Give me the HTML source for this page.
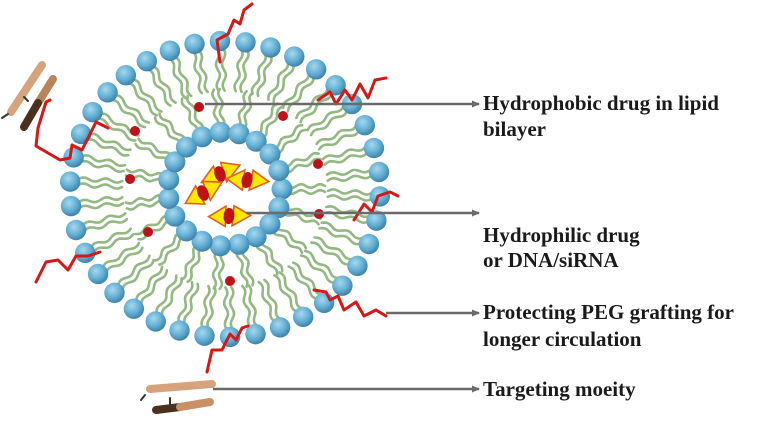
<!DOCTYPE html>
<html><head><meta charset="utf-8"><style>
html,body{margin:0;padding:0;background:#fff;}
#w{position:relative;width:780px;height:440px;overflow:hidden;background:#fff;}
.t{position:absolute;left:483px;font-family:"Liberation Serif",serif;font-weight:bold;font-size:21px;color:#1a1a1a;line-height:26px;white-space:nowrap;}
</style></head><body><div id="w">
<svg id="s" width="780" height="440" style="position:absolute;left:0;top:0">
<defs>
<radialGradient id="bg" cx="40%" cy="35%" r="65%"><stop offset="0" stop-color="#a6d8ee"/><stop offset="0.6" stop-color="#62aed3"/><stop offset="1" stop-color="#3f82a8"/></radialGradient>
<marker id="ah" markerWidth="8" markerHeight="8" refX="7" refY="4" orient="auto" markerUnits="userSpaceOnUse"><path d="M0,0.5 L8,4 L0,7.5z" fill="#6a6a6a"/></marker>
</defs>
<g id="tails" fill="none" stroke="#93b882" stroke-width="2.6" stroke-linecap="round"></g>
<g id="heads"></g>
<g id="dots" fill="#c0101a"></g>
<g id="tri"></g>
<g fill="none" stroke="#d41818" stroke-width="3" stroke-linejoin="round" stroke-linecap="round">
<path d="M220,62 L217,40 L228,34 L234,20 L240,24 L244,10 L252,4"/>
<path d="M318,100 L330,92 L336,104 L345,90 L352,100 L360,84 L368,98 L375,80 L386,78"/>
<path d="M108,128 L96,122 L82,150 L72,145 L70,158 L60,160 L36,146 L38,128 L46,102 L50,100"/>
<path d="M36,282 L46,262 L58,260 L68,270 L76,256 L88,256 L100,252"/>
<path d="M354,220 L364,204 L372,212 L378,196 L390,192 L398,196"/>
<path d="M314,290 L326,292 L330,300 L338,296 L344,310 L356,302 L364,316 L376,310 L386,316"/>
<path d="M207,372 L212,350 L222,350 L230,334 L236,340 L242,328 L248,326"/>
</g>
<g stroke-linecap="round">
<line x1="42" y1="65" x2="11" y2="112" stroke="#d6a47c" stroke-width="8"/>
<line x1="53" y1="79" x2="38" y2="103" stroke="#b98459" stroke-width="8"/>
<line x1="38" y1="103" x2="24" y2="127" stroke="#4b2f1f" stroke-width="8"/>
<line x1="150" y1="389" x2="212" y2="384" stroke="#d7a37c" stroke-width="8"/>
<line x1="156" y1="410" x2="180" y2="407" stroke="#4b2f1f" stroke-width="8"/>
<line x1="180" y1="407" x2="210" y2="402" stroke="#c99066" stroke-width="8"/>
<path d="M24,97 l4,4 M2,118 l6,-4" stroke="#333" stroke-width="2"/>
<path d="M145,395 l-4,5 M170,398 l0,6" stroke="#333" stroke-width="2"/>
</g>
<g stroke="#6a6a6a" stroke-width="2.5" marker-end="url(#ah)">
<line x1="205" y1="104" x2="479" y2="104"/>
<line x1="246" y1="213" x2="479" y2="213"/>
<line x1="386" y1="313" x2="479" y2="313"/>
<line x1="213" y1="389" x2="479" y2="389"/>
</g>
</svg>
<div class="t" style="top:90px">Hydrophobic drug in lipid</div>
<div class="t" style="top:116px">bilayer</div>
<div class="t" style="top:222px">Hydrophilic drug</div>
<div class="t" style="top:247px">or DNA/siRNA</div>
<div class="t" style="top:299px">Protecting PEG grafting for</div>
<div class="t" style="top:326px">longer circulation</div>
<div class="t" style="top:376px">Targeting moeity</div>
</div>
<script>
(function(){
var NS="http://www.w3.org/2000/svg";
function el(p,n,a){var e=document.createElementNS(NS,n);for(var k in a)e.setAttribute(k,a[k]);p.appendChild(e);return e;}
var cx=225,cy=189,tails=document.getElementById('tails'),heads=document.getElementById('heads');
function wavy(a,r0,r1,off,sx,sy){
 var d="",n=20;
 for(var i=0;i<=n;i++){var r=r0+(r1-r0)*i/n;var w=1.8*Math.sin(i/n*Math.PI*4)+off;
  var x=cx+Math.cos(a)*r*sx - Math.sin(a)*w, y=cy+Math.sin(a)*r*sy + Math.cos(a)*w;
  d+=(i?"L":"M")+x.toFixed(1)+","+y.toFixed(1);}
 el(tails,"path",{d:d});
}
var No=38,sx=1.0,sy=0.955;
for(var i=0;i<No;i++){var a=i/No*2*Math.PI+0.05;
 wavy(a,147,103,-3,sx,sy);wavy(a,147,103,3,sx,sy);}
var Ni=19;
for(var i=0;i<Ni;i++){var a=i/Ni*2*Math.PI;
 wavy(a,62,100,-3,1,1);wavy(a,62,100,3,1,1);}
for(var i=0;i<No;i++){var a=i/No*2*Math.PI+0.05;
 el(heads,"circle",{cx:cx+Math.cos(a)*155*sx,cy:cy+Math.sin(a)*155*sy,r:10.2,fill:"url(#bg)"});}
for(var i=0;i<Ni;i++){var a=i/Ni*2*Math.PI;
 el(heads,"circle",{cx:cx+Math.cos(a)*57,cy:cy+Math.sin(a)*57,r:10.5,fill:"url(#bg)"});}
var dots=document.getElementById('dots');
[[199,107],[283,116],[135,131],[318,164],[130,179],[148,232],[319,214],[230,281]].forEach(function(p){el(dots,"circle",{cx:p[0],cy:p[1],r:5});});
var tri=document.getElementById('tri');
[[220,174,-0.3],[247,180,0.2],[203,193,-0.4],[229,216,0.1]].forEach(function(p){
 var g=el(tri,"g",{transform:"translate("+p[0]+","+p[1]+") rotate("+(p[2]*57)+") scale(1.35)"});
 el(g,"path",{d:"M-3,-7 L-15,2 L-2,8z",fill:"#ffe800",stroke:"#e0601a","stroke-width":1.2});
 el(g,"path",{d:"M3,-8 L16,-2 L3,7z",fill:"#ffe800",stroke:"#e0601a","stroke-width":1.2});
 el(g,"ellipse",{cx:0,cy:0,rx:4,ry:6,fill:"#c0101a"});
});
})();
</script>
</body></html>
